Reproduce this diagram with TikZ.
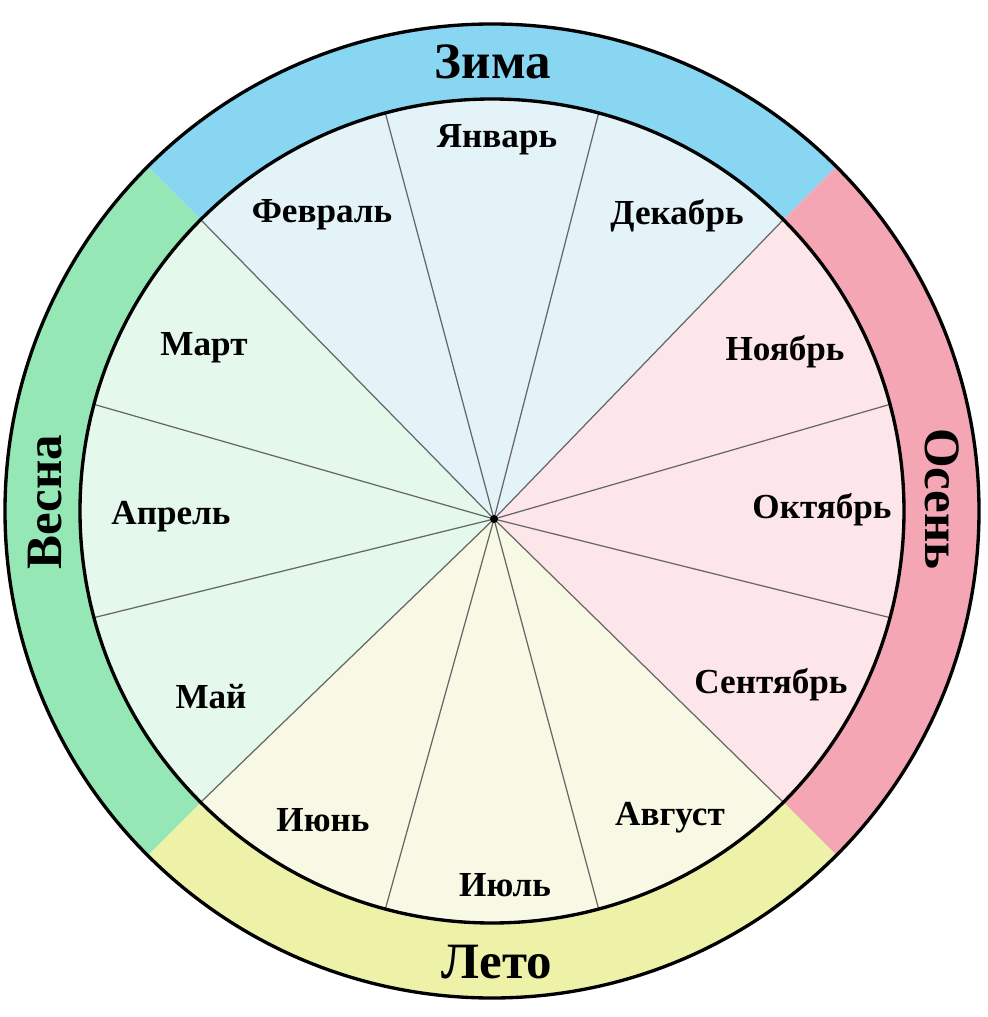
\documentclass[tikz,border=0pt]{standalone}
\usepackage{fontspec}
\setmainfont{Liberation Serif}
\definecolor{winterring}{HTML}{88D6F1}
\definecolor{autumnring}{HTML}{F5A6B5}
\definecolor{summerring}{HTML}{EEF2A8}
\definecolor{springring}{HTML}{95E8B5}
\definecolor{winterfill}{HTML}{E3F3F8}
\definecolor{autumnfill}{HTML}{FDE6EA}
\definecolor{summerfill}{HTML}{F7F9E4}
\definecolor{springfill}{HTML}{E4F8EC}
\begin{document}
\begin{tikzpicture}[x=0.02cm,y=0.02cm,
        month/.style={font=\bfseries\fontsize{20}{23}\selectfont,inner sep=0pt},
        season/.style={font=\bfseries\fontsize{29}{33}\selectfont,inner sep=0pt},
        spoke/.style={draw=black!60,line width=0.7pt},
        rim/.style={draw=black,line width=1.9pt}]
    \useasboundingbox (-492,-506) rectangle (495,511);
    \fill[white] (-492,-506) rectangle (495,511);
    %% centre and hub
    \coordinate (C) at (0,0);
    \coordinate (H) at (2,-8);
    %% season ring
    \foreach \a/\col in {45/winterring,-45/autumnring,-135/summerring,135/springring}{
        \fill[\col] (\a:412) arc[start angle=\a,end angle=\a+90,radius=412]
            -- (\a+90:487) arc[start angle=\a+90,end angle=\a,radius=487] -- cycle;
    }
    %% month wedges
    \foreach \i/\s/\col in {0/-45/autumnfill,1/-15/autumnfill,2/15/autumnfill,
                            3/45/winterfill,4/75/winterfill,5/105/winterfill,
                            6/135/springfill,7/165/springfill,8/195/springfill,
                            9/225/summerfill,10/255/summerfill,11/285/summerfill}{
        \coordinate (s\i) at (\s:412);
        \fill[\col] (H) -- (s\i) arc[start angle=\s,end angle=\s+30,radius=412] -- cycle;
    }
    %% spokes
    \foreach \i in {0,...,11}{
        \draw[spoke] (H) -- (s\i);
    }
    \fill[black] (H) circle[radius=4];
    %% rims
    \draw[rim] (C) circle[radius=412];
    \draw[rim] (C) circle[radius=487];
    %% months
    \foreach \n/\x/\y/\t in {jan/5/371/Январь,dec/185/295/Декабрь,nov/293/159/Ноябрь,
                             oct/330/1/Октябрь,sep/279/-174/Сентябрь,aug/178/-307/Август,
                             jul/13/-374/Июль,jun/-169/-309/Июнь,may/-281/-186/Май,
                             apr/-321/-6/Апрель,mar/-288/163/Март,feb/-170/296/Февраль}{
        \node[month] (\n) at (\x,\y) {\t};
    }
    %% seasons
    \node[season] (winter) at (1,449) {Зима};
    \node[season] (summer) at (5,-451) {Лето};
    \node[season,rotate=90] (spring) at (-447,9) {Весна};
    \node[season,rotate=-90] (autumn) at (450,12) {Осень};
\end{tikzpicture}
\end{document}
